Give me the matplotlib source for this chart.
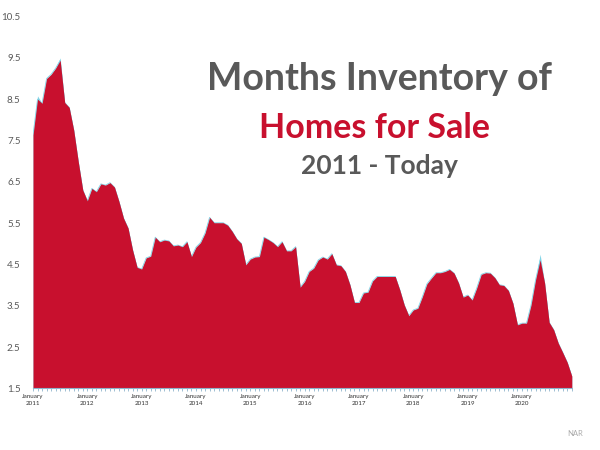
import numpy as np
import matplotlib
matplotlib.use('Agg')
import matplotlib.pyplot as plt

plt.rcParams['font.family'] = ['Lato', 'DejaVu Sans']

# months supply, Jan 2011 .. Dec 2020 (monthly)
inventory = [
    7.63, 8.50, 8.40, 9.00, 9.10, 9.25, 9.44, 8.42, 8.30, 7.75, 6.99, 6.30,   # 2011
    6.04, 6.34, 6.26, 6.45, 6.42, 6.48, 6.37, 6.02, 5.62, 5.38, 4.85, 4.43,   # 2012
    4.39, 4.66, 4.70, 5.16, 5.05, 5.09, 5.07, 4.95, 4.97, 4.93, 5.05, 4.69,   # 2013
    4.92, 5.03, 5.26, 5.64, 5.51, 5.51, 5.51, 5.45, 5.30, 5.12, 5.01, 4.49,   # 2014
    4.63, 4.68, 4.69, 5.16, 5.10, 5.03, 4.93, 5.05, 4.83, 4.83, 4.93, 3.95,   # 2015
    4.09, 4.33, 4.41, 4.61, 4.68, 4.63, 4.76, 4.49, 4.47, 4.33, 4.01, 3.58,   # 2016
    3.58, 3.81, 3.83, 4.10, 4.21, 4.21, 4.21, 4.21, 4.21, 3.89, 3.52, 3.26,   # 2017
    3.40, 3.44, 3.72, 4.03, 4.17, 4.30, 4.30, 4.33, 4.38, 4.29, 4.05, 3.71,   # 2018
    3.76, 3.64, 3.93, 4.26, 4.30, 4.29, 4.18, 4.01, 3.99, 3.87, 3.56, 3.04,   # 2019
    3.08, 3.08, 3.52, 4.13, 4.61, 4.05, 3.10, 2.92, 2.60, 2.37, 2.13, 1.80,   # 2020
]
# the light blue series pokes out a little at a few peaks
peak_months = [1, 6, 112]
peak_values = [8.58, 9.50, 4.75]

years = list(range(2011, 2021))
yticks = [1.5, 2.5, 3.5, 4.5, 5.5, 6.5, 7.5, 8.5, 9.5, 10.5]

red = '#C8102E'
cyan = '#7FD3E6'
gray = '#595959'

x = np.arange(len(inventory))
top = np.array(inventory, dtype=float)
edge = top.copy()
edge[peak_months] = peak_values

fig = plt.figure(figsize=(6, 4.5), dpi=100)
ax = fig.add_axes([0.055, 0.1367, 0.898, 0.8266])

ax.fill_between(x, 1.5, edge, color=cyan, linewidth=0, zorder=1)
ax.plot(x, top, color=cyan, linewidth=0.6, zorder=2)
ax.fill_between(x, 1.5, top, color=red, linewidth=0, zorder=3)

ax.set_xlim(0, len(inventory) - 1)
ax.set_ylim(1.5, 10.5)
ax.set_yticks(yticks)
ax.set_yticklabels([f'{t:.1f}' for t in yticks], color=gray, fontsize=7)
ax.tick_params(axis='y', length=0, pad=9)

ax.set_xticks(np.arange(0, len(inventory), 12))
ax.set_xticklabels([f'January\n{y}' for y in years], fontsize=4.5, color='#333333',
                   linespacing=1.6)
ax.set_xticks(x, minor=True)
ax.tick_params(axis='x', which='both', length=2, color='#8FB4CC', width=0.6, pad=2)

for side in ['top', 'right', 'left']:
    ax.spines[side].set_visible(False)
ax.spines['bottom'].set_color('#8FB4CC')
ax.spines['bottom'].set_linestyle((0, (1, 1)))
ax.spines['bottom'].set_linewidth(0.8)
ax.spines['bottom'].set_zorder(4)

fig.text(0.633, 0.825, 'Months Inventory of', ha='center', va='center',
         fontsize=27, fontweight='bold', color=gray)
fig.text(0.624, 0.716, 'Homes for Sale', ha='center', va='center',
         fontsize=24.5, fontweight='bold', color=red)
fig.text(0.633, 0.630, '2011 - Today', ha='center', va='center',
         fontsize=19, fontweight='bold', color=gray)
fig.text(0.958, 0.037, 'NAR', ha='center', va='center', fontsize=5.5, color='#AAAAAA')

fig.savefig('out.png', dpi=100)
